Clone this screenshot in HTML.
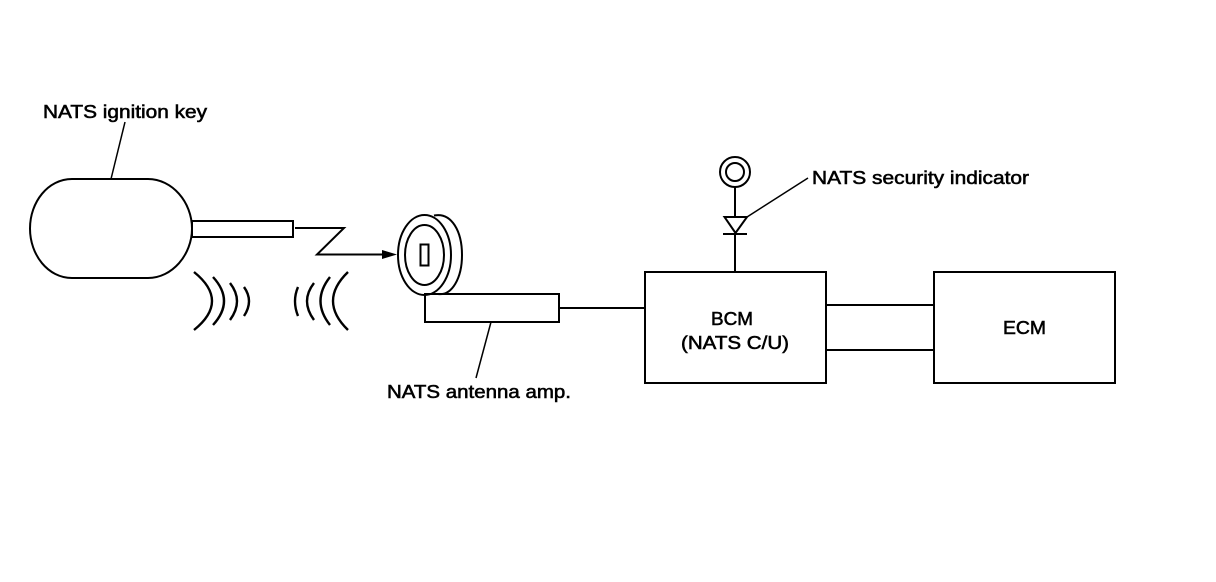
<!DOCTYPE html>
<html>
<head>
<meta charset="utf-8">
<style>
html,body{margin:0;padding:0;background:#fff}
svg{display:block}
text{font-family:"Liberation Sans",sans-serif;font-size:18px;fill:#000;stroke:#000;stroke-width:.55}
</style>
</head>
<body>
<svg width="1216" height="582" viewBox="0 0 1216 582" xmlns="http://www.w3.org/2000/svg">
<g fill="none" stroke="#000" stroke-width="2">
<!-- key -->
<path d="M72 179H148C172 179 192 202 192 228.500C192 255 172 278 148 278H72C48 278 30 255 30 228.500C30 202 48 179 72 179Z"/>
<rect x="192" y="221" width="101" height="16"/>
<path d="M111 179L125 122" stroke-width="1.500"/>
<!-- zigzag -->
<path d="M295 228H344L317 254.500H385"/>
<!-- waves left -->
<path d="M194 272Q230 301 194 330" stroke-width="2.400"/>
<path d="M213 277Q235 301 213 325" stroke-width="2.400"/>
<path d="M230 283Q244 301 230 320" stroke-width="2.400"/>
<path d="M244 287Q254 301 244 316" stroke-width="2.400"/>
<!-- waves right -->
<path d="M348 272Q318 301 348 330" stroke-width="2.400"/>
<path d="M330 277Q311 301 330 325" stroke-width="2.400"/>
<path d="M314 283Q300 301 314 320" stroke-width="2.400"/>
<path d="M298 287Q292 301 298 316" stroke-width="2.400"/>
<!-- antenna -->
<ellipse cx="424.500" cy="255" rx="26.500" ry="40"/>
<ellipse cx="424.500" cy="255" rx="19.500" ry="30"/>
<path d="M434 215.500C452 212 462 232 462 255C462 278 452 296 438 294"/>
<rect x="420.500" y="244.500" width="8" height="21"/>
<rect x="425" y="294" width="134" height="28"/>
<path d="M491 322L476 378" stroke-width="1.500"/>
<path d="M559 308H645"/>
<!-- indicator -->
<circle cx="735" cy="172" r="15"/>
<circle cx="735" cy="172" r="9"/>
<path d="M735 187V217"/>
<path d="M724.500 217H747L735.500 233Z"/>
<path d="M723 234H747"/>
<path d="M735 234V272"/>
<path d="M747 217L808 178" stroke-width="1.500"/>
<!-- boxes -->
<rect x="645" y="272" width="181" height="111"/>
<rect x="934" y="272" width="181" height="111"/>
<path d="M826 305H934M826 350H934"/>
</g>
<path d="M397 254.500L382 250V259Z" fill="#000"/>
<text x="43" y="118" textLength="164" lengthAdjust="spacingAndGlyphs">NATS ignition key</text>
<text x="387" y="398" textLength="184" lengthAdjust="spacingAndGlyphs">NATS antenna amp.</text>
<text x="812" y="184" textLength="217" lengthAdjust="spacingAndGlyphs">NATS security indicator</text>
<text x="711" y="325" textLength="42" lengthAdjust="spacingAndGlyphs">BCM</text>
<text x="681" y="349" textLength="108" lengthAdjust="spacingAndGlyphs">(NATS C/U)</text>
<text x="1003" y="334" textLength="43" lengthAdjust="spacingAndGlyphs">ECM</text>
</svg>
</body>
</html>
